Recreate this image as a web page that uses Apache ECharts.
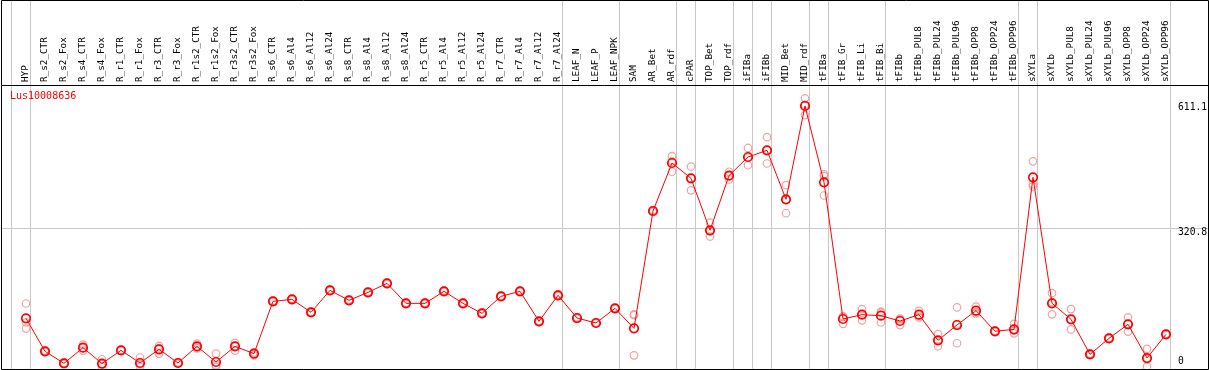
<!DOCTYPE html>
<html><head><meta charset="utf-8">
<script src="https://cdn.jsdelivr.net/npm/echarts@6/dist/echarts.min.js"></script>
<style>html,body{margin:0;padding:0;background:#fff}#c{width:1209px;height:370px}</style>
</head><body><div id="c"></div>
<script>
const geneName = 'Lus10008636';
const categories = ['HYP','R_s2_CTR','R_s2_Fox','R_s4_CTR','R_s4_Fox','R_r1_CTR','R_r1_Fox','R_r3_CTR','R_r3_Fox','R_r1s2_CTR','R_r1s2_Fox','R_r3s2_CTR','R_r3s2_Fox','R_s6_CTR','R_s6_Al4','R_s6_Al12','R_s6_Al24','R_s8_CTR','R_s8_Al4','R_s8_Al12','R_s8_Al24','R_r5_CTR','R_r5_Al4','R_r5_Al12','R_r5_Al24','R_r7_CTR','R_r7_Al4','R_r7_Al12','R_r7_Al24','LEAF_N','LEAF_P','LEAF_NPK','SAM','AR_Bet','AR_rdf','cPAR','TOP_Bet','TOP_rdf','iFIBa','iFIBb','MID_Bet','MID_rdf','tFIBa','tFIB_Gr','tFIB_Li','tFIB_Bi','tFIBb','tFIBb_PUL8','tFIBb_PUL24','tFIBb_PUL96','tFIBb_OPP8','tFIBb_OPP24','tFIBb_OPP96','sXYLa','sXYLb','sXYLb_PUL8','sXYLb_PUL24','sXYLb_PUL96','sXYLb_OPP8','sXYLb_OPP24','sXYLb_OPP96'];
const meanValues = [112.7,36.3,8.5,44.8,8.0,38.6,9.3,41.0,9.3,47.8,11.6,47.8,30.9,152.0,156.6,126.6,177.5,154.3,172.8,193.7,147.4,147.4,175.2,147.4,124.2,163.6,175.2,105.8,166.0,113.4,101.9,135.8,89.5,361.1,472.2,436.8,316.4,442.9,486.1,501.6,388.2,604.2,427.5,111.1,121.1,118.8,106.5,121.1,61.7,97.2,130.4,82.6,87.2,439.1,147.4,110.4,29.3,66.4,98.8,20.8,75.6];
const rep1 = [147,38,10,52,18,40,22,49,11,54,31,56,34,153.5,158,128,179,156,174,195,149,149,177,149,126,165,177,107,168,115,103,137,122,363,488,464,334,452,507,532,421,622,446,117,134,128,112,130,76,138,140,84,100,476,171,134,31,68,115,42,77];
const rep2 = [103,36,8.5,44,6,38,6,43,9,46,4,48,31,152,156.6,126.6,177.5,154.3,172.8,193.7,147.4,147.4,175.2,147.4,124.2,163.6,175.2,105.8,166,113.4,101.9,135.8,120,361,476,437,314,443,485,502,387,607,442,116,121,126,110,119,62,99,127,83,84,423,150,110,29,66,100,19,76];
const rep3 = [89,35,7,38,0,38,0,31,8,43,0,38,27,150.5,155,125,176,153,171,192,146,146,174,146,123,162,174,104,164,112,101,134,27,359,452,409,302,434,467,471,356,583,397,100,108,103,97,115,48,55,124,81,78,418,122,87,28,65,82,1,74];
const groupEnds = [-1,0,28,31,34,35,37,38,39,41,42,45,52,53,60];
const yTickLabels = [0, 320.8, 611.1];
const gridLineValue = 320.8;

const FONT = '"DejaVu Sans Mono", "Liberation Mono", monospace';
const chart = echarts.init(document.getElementById('c'), null, {renderer:'canvas'});
const repStyle = {color:'rgba(0,0,0,0)', borderColor:'#ec8c8c', borderWidth:1.2};
const repSeries = [rep1, rep2, rep3].map(r => ({
  type:'scatter', data:r, symbol:'circle', symbolSize:7.5, itemStyle:repStyle, silent:true, z:2
}));
chart.setOption({
  animation:false,
  backgroundColor:'#fff',
  grid:{left:16.5, right:33.5, top:0, bottom:1, containLabel:false},
  xAxis:[
    {type:'category', data:categories, position:'top', offset:-85, boundaryGap:true,
     axisLine:{show:false}, axisTick:{show:false}, splitLine:{show:false},
     axisLabel:{interval:0, rotate:90, margin:3, fontSize:9.3, fontFamily:FONT, color:'#000'}},
    {type:'value', min:-0.5, max:categories.length-0.5, show:false, splitLine:{show:false}}
  ],
  yAxis:[{type:'value', min:-4.6, max:849.5, show:false, splitLine:{show:false}}],
  series:[
    ...repSeries,
    {type:'line', data:meanValues, symbol:'circle', symbolSize:8.5, z:3,
     lineStyle:{color:'#ff0000', width:1},
     itemStyle:{color:'rgba(0,0,0,0)', borderColor:'#ff0000', borderWidth:1.7}}
  ]
});

const yPix = v => chart.convertToPixel({yAxisIndex:0}, v);
const xPix = v => chart.convertToPixel({xAxisIndex:1}, v);
const graphics = [];
groupEnds.forEach(g => {
  const x = Math.round(xPix(g + 0.22)) + 0.5;
  graphics.push({type:'line', shape:{x1:x, y1:0, x2:x, y2:369}, style:{stroke:'#c8c8c8', lineWidth:1}, z:0, silent:true});
});
const gy = Math.round(yPix(gridLineValue)) + 0.5;
graphics.push(
  {type:'line', shape:{x1:1, y1:gy, x2:1208, y2:gy}, style:{stroke:'#c8c8c8', lineWidth:1}, z:0, silent:true},
  {type:'rect', shape:{x:1.5, y:0.5, width:1207, height:369}, style:{fill:null, stroke:'#000', lineWidth:1}, z:10, silent:true},
  {type:'line', shape:{x1:1, y1:85.5, x2:1208, y2:85.5}, style:{stroke:'#000', lineWidth:1}, z:10, silent:true},
  {type:'text', x:10, y:91, style:{text:geneName, fill:'#ff0000', font:'10px ' + FONT}, z:10, silent:true}
);
yTickLabels.forEach(v => {
  const y = yPix(v);
  graphics.push({type:'text', x:1178, y: y - 1,
    style:{text:String(v), fill:'#000', font:'9.7px ' + FONT, verticalAlign: v === 0 ? 'bottom' : 'top'}, z:10, silent:true});
});
chart.setOption({graphic:graphics});
</script>
</body></html>
